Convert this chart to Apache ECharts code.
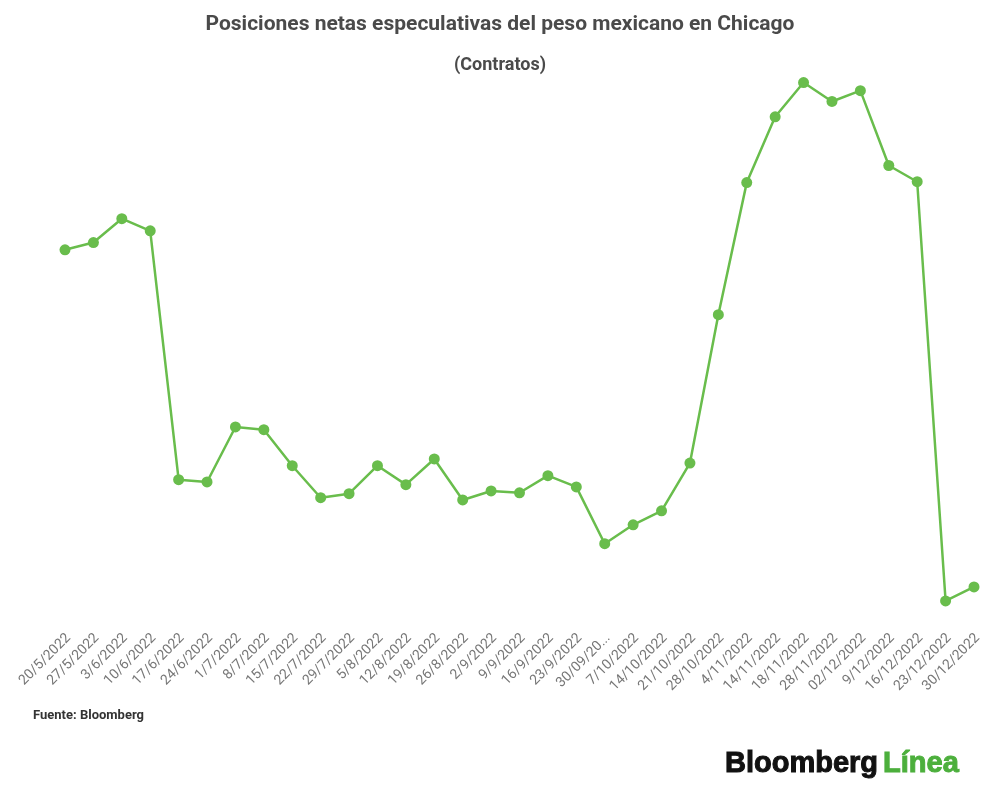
<!DOCTYPE html>
<html>
<head>
<meta charset="utf-8">
<title>Posiciones netas especulativas del peso mexicano en Chicago</title>
<script src="https://cdn.jsdelivr.net/npm/echarts@6/dist/echarts.min.js"></script>
<style>
  html, body { margin: 0; padding: 0; background: #fff; }
  #chart { width: 1000px; height: 800px; }
</style>
</head>
<body>
<div id="chart"></div>
<script>
// fechas (categorías del eje x)
var fechas = [
    '20/5/2022', '27/5/2022', '3/6/2022', '10/6/2022', '17/6/2022', '24/6/2022',
    '1/7/2022', '8/7/2022', '15/7/2022', '22/7/2022', '29/7/2022', '5/8/2022',
    '12/8/2022', '19/8/2022', '26/8/2022', '2/9/2022', '9/9/2022', '16/9/2022',
    '23/9/2022', '30/09/2022', '7/10/2022', '14/10/2022', '21/10/2022', '28/10/2022',
    '4/11/2022', '14/11/2022', '18/11/2022', '28/11/2022', '02/12/2022', '9/12/2022',
    '16/12/2022', '23/12/2022', '30/12/2022'
];

// etiquetas tal como se ven en el eje (una viene cortada)
var etiquetas = fechas.slice();
etiquetas[19] = '30/09/20...';

// posiciones netas (contratos), estimadas del gráfico
var contratos = [
    82900, 84500, 89800, 87100, 31900, 31400,
    43600, 43000, 35000, 27900, 28800, 35000,
    30800, 36500, 27400, 29400, 29000, 32800,
    30300, 17700, 21900, 25000, 35600, 68500,
    97800, 112400, 120000, 115800, 118200, 101600,
    98000, 5000, 8100
];

var verde = '#69bd4c';

var chart = echarts.init(document.getElementById('chart'));

var option = {
    backgroundColor: '#ffffff',
    animation: false,
    title: [
        {
            text: 'Posiciones netas especulativas del peso mexicano en Chicago',
            left: 'center',
            top: 9,
            textStyle: { fontFamily: 'Roboto', fontSize: 21, fontWeight: 'bold', color: '#4a4a4a' }
        },
        {
            text: '(Contratos)',
            left: 'center',
            top: 51,
            textStyle: { fontFamily: 'Roboto', fontSize: 18, fontWeight: 'bold', color: '#4a4a4a' }
        },
        {
            text: 'Fuente: Bloomberg',
            left: 28,
            top: 704,
            textStyle: { fontFamily: 'Roboto', fontSize: 13, fontWeight: 'bold', color: '#333' }
        },
        {
            text: '{b|Bloomberg} {l|Línea}',
            left: 720,
            top: 744,
            textStyle: {
                rich: {
                    b: {
                        fontFamily: 'Liberation Sans', fontSize: 29, fontWeight: 'bold', color: '#111',
                        textBorderColor: '#111', textBorderWidth: 1
                    },
                    l: {
                        fontFamily: 'Liberation Sans', fontSize: 29, fontWeight: 'bold', color: '#4caf3c',
                        textBorderColor: '#4caf3c', textBorderWidth: 1
                    }
                }
            }
        }
    ],
    grid: {
        left: 65,
        right: 26,
        top: 60,
        bottom: 176.5,
        containLabel: false
    },
    xAxis: {
        type: 'category',
        data: fechas,
        boundaryGap: false,
        axisLine: { show: false },
        axisTick: { show: false },
        axisLabel: {
            interval: 0,
            rotate: 45,
            margin: 16,
            padding: [0, -5, 0, 0],
            fontFamily: 'Roboto',
            fontSize: 14,
            color: '#777',
            formatter: function (value, index) {
                return etiquetas[index];
            }
        }
    },
    yAxis: {
        type: 'value',
        min: 0,
        max: 125000,
        show: false,
        splitLine: { show: false }
    },
    series: [
        {
            name: 'Contratos',
            type: 'line',
            data: contratos,
            symbol: 'circle',
            symbolSize: 11,
            lineStyle: { color: verde, width: 2.5 },
            itemStyle: { color: verde }
        }
    ]
};

chart.setOption(option);
</script>
</body>
</html>
